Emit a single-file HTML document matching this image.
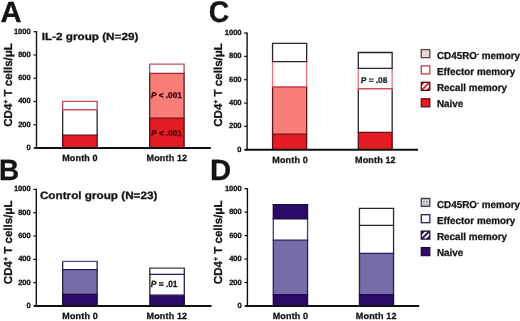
<!DOCTYPE html><html><head><meta charset="utf-8"><style>html,body{margin:0;padding:0;background:#fff;}svg{display:block;will-change:transform;}text{font-family:"Liberation Sans",sans-serif;text-rendering:geometricPrecision;}</style></head><body>
<svg width="520" height="321" viewBox="0 0 520 321">
<rect width="520" height="321" fill="#fff"/>
<text x="0.4" y="22" font-size="29.2" font-weight="bold" text-anchor="start" fill="#141414" stroke="#141414" stroke-width="0.3" >A</text>
<g transform="translate(-1.05,179.9) scale(0.95,1)"><text x="0" y="0" font-size="29.3" font-weight="bold" fill="#141414" stroke="#141414" stroke-width="0.3">B</text></g>
<g transform="translate(208.7,22) scale(0.945,1)"><text x="0" y="0" font-size="29.9" font-weight="bold" fill="#141414" stroke="#141414" stroke-width="0.3">C</text></g>
<text x="209.9" y="180" font-size="29.3" font-weight="bold" text-anchor="start" fill="#141414" stroke="#141414" stroke-width="0.3" >D</text>
<text x="41.8" y="40" font-size="10.3" font-weight="bold" text-anchor="start" fill="#141414" stroke="#141414" stroke-width="0.3" textLength="96.5" lengthAdjust="spacingAndGlyphs">IL-2 group (N=29)</text>
<text x="39.9" y="199" font-size="10.6" font-weight="bold" text-anchor="start" fill="#141414" stroke="#141414" stroke-width="0.3" textLength="117.5" lengthAdjust="spacingAndGlyphs">Control group (N=23)</text>
<text transform="translate(12.1,126.8) rotate(-90)" font-size="11.56" font-weight="bold" fill="#141414" stroke="#141414" stroke-width="0.3">CD4<tspan font-size="7" dy="-4.2">+</tspan><tspan dy="4.2"> T cells/μL</tspan></text>
<text transform="translate(12.3,284.2) rotate(-90)" font-size="11.56" font-weight="bold" fill="#141414" stroke="#141414" stroke-width="0.3">CD4<tspan font-size="7" dy="-4.2">+</tspan><tspan dy="4.2"> T cells/μL</tspan></text>
<text transform="translate(221.7,126.8) rotate(-90)" font-size="11.56" font-weight="bold" fill="#141414" stroke="#141414" stroke-width="0.3">CD4<tspan font-size="7" dy="-4.2">+</tspan><tspan dy="4.2"> T cells/μL</tspan></text>
<text transform="translate(221.8,284.2) rotate(-90)" font-size="11.56" font-weight="bold" fill="#141414" stroke="#141414" stroke-width="0.3">CD4<tspan font-size="7" dy="-4.2">+</tspan><tspan dy="4.2"> T cells/μL</tspan></text>
<rect x="62.65" y="135.10" width="34.50" height="12.90" fill="#e31b23"/>
<rect x="62.65" y="109.75" width="34.50" height="25.35" fill="#fff"/>
<rect x="62.65" y="101.30" width="34.50" height="8.45" fill="#fff"/>
<line x1="62.65" y1="135.10" x2="62.65" y2="148.00" stroke="#5a0a10" stroke-width="1.3"/>
<line x1="97.15" y1="135.10" x2="97.15" y2="148.00" stroke="#5a0a10" stroke-width="1.3"/>
<line x1="62.65" y1="109.75" x2="62.65" y2="135.10" stroke="#262626" stroke-width="1.3"/>
<line x1="97.15" y1="109.75" x2="97.15" y2="135.10" stroke="#262626" stroke-width="1.3"/>
<line x1="62.65" y1="101.30" x2="62.65" y2="109.75" stroke="#b04a56" stroke-width="1.3"/>
<line x1="97.15" y1="101.30" x2="97.15" y2="109.75" stroke="#b04a56" stroke-width="1.3"/>
<line x1="62.00" y1="135.10" x2="97.80" y2="135.10" stroke="#6a0c12" stroke-width="1.3"/>
<line x1="62.00" y1="109.75" x2="97.80" y2="109.75" stroke="#c4505c" stroke-width="1.3"/>
<line x1="62.00" y1="101.30" x2="97.80" y2="101.30" stroke="#c4505c" stroke-width="1.3"/>
<rect x="149.70" y="118.20" width="34.40" height="29.80" fill="#e31b23"/>
<rect x="149.70" y="73.40" width="34.40" height="44.80" fill="#f97d78"/>
<rect x="149.70" y="64.15" width="34.40" height="9.25" fill="#fff"/>
<line x1="149.70" y1="118.20" x2="149.70" y2="148.00" stroke="#5a0a10" stroke-width="1.3"/>
<line x1="184.10" y1="118.20" x2="184.10" y2="148.00" stroke="#5a0a10" stroke-width="1.3"/>
<line x1="149.70" y1="73.40" x2="149.70" y2="118.20" stroke="#5a1a1a" stroke-width="1.3"/>
<line x1="184.10" y1="73.40" x2="184.10" y2="118.20" stroke="#5a1a1a" stroke-width="1.3"/>
<line x1="149.70" y1="64.15" x2="149.70" y2="73.40" stroke="#b04a56" stroke-width="1.3"/>
<line x1="184.10" y1="64.15" x2="184.10" y2="73.40" stroke="#b04a56" stroke-width="1.3"/>
<line x1="149.05" y1="118.20" x2="184.75" y2="118.20" stroke="#6a0c12" stroke-width="1.3"/>
<line x1="149.05" y1="73.40" x2="184.75" y2="73.40" stroke="#a02830" stroke-width="1.3"/>
<line x1="149.05" y1="64.15" x2="184.75" y2="64.15" stroke="#c4505c" stroke-width="1.3"/>
<rect x="62.65" y="294.40" width="34.50" height="11.60" fill="#2d0b68"/>
<rect x="62.65" y="269.60" width="34.50" height="24.80" fill="#766ca8"/>
<rect x="62.65" y="261.30" width="34.50" height="8.30" fill="#fff"/>
<line x1="62.65" y1="294.40" x2="62.65" y2="306.00" stroke="#1c0845" stroke-width="1.3"/>
<line x1="97.15" y1="294.40" x2="97.15" y2="306.00" stroke="#1c0845" stroke-width="1.3"/>
<line x1="62.65" y1="269.60" x2="62.65" y2="294.40" stroke="#2a2040" stroke-width="1.3"/>
<line x1="97.15" y1="269.60" x2="97.15" y2="294.40" stroke="#2a2040" stroke-width="1.3"/>
<line x1="62.65" y1="261.30" x2="62.65" y2="269.60" stroke="#2a2040" stroke-width="1.3"/>
<line x1="97.15" y1="261.30" x2="97.15" y2="269.60" stroke="#2a2040" stroke-width="1.3"/>
<line x1="62.00" y1="294.40" x2="97.80" y2="294.40" stroke="#1c0845" stroke-width="1.3"/>
<line x1="62.00" y1="269.60" x2="97.80" y2="269.60" stroke="#2a1a60" stroke-width="1.3"/>
<line x1="62.00" y1="261.30" x2="97.80" y2="261.30" stroke="#5548a0" stroke-width="1.3"/>
<rect x="149.85" y="295.20" width="34.45" height="10.80" fill="#2d0b68"/>
<rect x="149.85" y="274.45" width="34.45" height="20.75" fill="#fff"/>
<rect x="149.85" y="268.10" width="34.45" height="6.35" fill="#fff"/>
<line x1="149.85" y1="295.20" x2="149.85" y2="306.00" stroke="#1c0845" stroke-width="1.3"/>
<line x1="184.30" y1="295.20" x2="184.30" y2="306.00" stroke="#1c0845" stroke-width="1.3"/>
<line x1="149.85" y1="274.45" x2="149.85" y2="295.20" stroke="#2a2040" stroke-width="1.3"/>
<line x1="184.30" y1="274.45" x2="184.30" y2="295.20" stroke="#2a2040" stroke-width="1.3"/>
<line x1="149.85" y1="268.10" x2="149.85" y2="274.45" stroke="#262626" stroke-width="1.3"/>
<line x1="184.30" y1="268.10" x2="184.30" y2="274.45" stroke="#262626" stroke-width="1.3"/>
<line x1="149.20" y1="295.20" x2="184.95" y2="295.20" stroke="#1c0845" stroke-width="1.3"/>
<line x1="149.20" y1="274.45" x2="184.95" y2="274.45" stroke="#2a1a60" stroke-width="1.3"/>
<line x1="149.20" y1="268.10" x2="184.95" y2="268.10" stroke="#3a3a3a" stroke-width="1.3"/>
<rect x="272.55" y="134.20" width="34.10" height="15.55" fill="#e31b23"/>
<rect x="272.55" y="87.00" width="34.10" height="47.20" fill="#f97d78"/>
<rect x="272.55" y="61.55" width="34.10" height="25.45" fill="#fff"/>
<rect x="272.55" y="43.45" width="34.10" height="18.10" fill="#fff"/>
<line x1="272.55" y1="134.20" x2="272.55" y2="149.75" stroke="#5a0a10" stroke-width="1.3"/>
<line x1="306.65" y1="134.20" x2="306.65" y2="149.75" stroke="#5a0a10" stroke-width="1.3"/>
<line x1="272.55" y1="87.00" x2="272.55" y2="134.20" stroke="#5a1a1a" stroke-width="1.3"/>
<line x1="306.65" y1="87.00" x2="306.65" y2="134.20" stroke="#5a1a1a" stroke-width="1.3"/>
<line x1="272.55" y1="61.55" x2="272.55" y2="87.00" stroke="#e07482" stroke-width="1.3"/>
<line x1="306.65" y1="61.55" x2="306.65" y2="87.00" stroke="#e07482" stroke-width="1.3"/>
<line x1="272.55" y1="43.45" x2="272.55" y2="61.55" stroke="#262626" stroke-width="1.3"/>
<line x1="306.65" y1="43.45" x2="306.65" y2="61.55" stroke="#262626" stroke-width="1.3"/>
<line x1="271.90" y1="134.20" x2="307.30" y2="134.20" stroke="#6a0c12" stroke-width="1.3"/>
<line x1="271.90" y1="87.00" x2="307.30" y2="87.00" stroke="#c83848" stroke-width="1.3"/>
<line x1="271.90" y1="61.55" x2="307.30" y2="61.55" stroke="#262626" stroke-width="1.3"/>
<line x1="271.90" y1="43.45" x2="307.30" y2="43.45" stroke="#262626" stroke-width="1.3"/>
<rect x="358.30" y="132.45" width="33.85" height="17.30" fill="#e31b23"/>
<rect x="358.30" y="88.75" width="33.85" height="43.70" fill="#fff"/>
<rect x="358.30" y="68.35" width="33.85" height="20.40" fill="#fff"/>
<rect x="358.30" y="52.50" width="33.85" height="15.85" fill="#fff"/>
<line x1="358.30" y1="132.45" x2="358.30" y2="149.75" stroke="#5a0a10" stroke-width="1.3"/>
<line x1="392.15" y1="132.45" x2="392.15" y2="149.75" stroke="#5a0a10" stroke-width="1.3"/>
<line x1="358.30" y1="88.75" x2="358.30" y2="132.45" stroke="#262626" stroke-width="1.3"/>
<line x1="392.15" y1="88.75" x2="392.15" y2="132.45" stroke="#262626" stroke-width="1.3"/>
<line x1="358.30" y1="68.35" x2="358.30" y2="88.75" stroke="#e07482" stroke-width="1.3"/>
<line x1="392.15" y1="68.35" x2="392.15" y2="88.75" stroke="#e07482" stroke-width="1.3"/>
<line x1="358.30" y1="52.50" x2="358.30" y2="68.35" stroke="#262626" stroke-width="1.3"/>
<line x1="392.15" y1="52.50" x2="392.15" y2="68.35" stroke="#262626" stroke-width="1.3"/>
<line x1="357.65" y1="132.45" x2="392.80" y2="132.45" stroke="#6a0c12" stroke-width="1.3"/>
<line x1="357.65" y1="88.75" x2="392.80" y2="88.75" stroke="#d84a5a" stroke-width="1.3"/>
<line x1="357.65" y1="68.35" x2="392.80" y2="68.35" stroke="#262626" stroke-width="1.3"/>
<line x1="357.65" y1="52.50" x2="392.80" y2="52.50" stroke="#262626" stroke-width="1.3"/>
<rect x="273.30" y="294.65" width="34.25" height="11.35" fill="#2d0b68"/>
<rect x="273.30" y="240.15" width="34.25" height="54.50" fill="#766ca8"/>
<rect x="273.30" y="218.90" width="34.25" height="21.25" fill="#fff"/>
<rect x="273.30" y="204.65" width="34.25" height="14.25" fill="#2d0b68"/>
<line x1="273.30" y1="294.65" x2="273.30" y2="306.00" stroke="#1c0845" stroke-width="1.3"/>
<line x1="307.55" y1="294.65" x2="307.55" y2="306.00" stroke="#1c0845" stroke-width="1.3"/>
<line x1="273.30" y1="240.15" x2="273.30" y2="294.65" stroke="#2a2040" stroke-width="1.3"/>
<line x1="307.55" y1="240.15" x2="307.55" y2="294.65" stroke="#2a2040" stroke-width="1.3"/>
<line x1="273.30" y1="218.90" x2="273.30" y2="240.15" stroke="#4a3a80" stroke-width="1.3"/>
<line x1="307.55" y1="218.90" x2="307.55" y2="240.15" stroke="#4a3a80" stroke-width="1.3"/>
<line x1="273.30" y1="204.65" x2="273.30" y2="218.90" stroke="#1c0845" stroke-width="1.3"/>
<line x1="307.55" y1="204.65" x2="307.55" y2="218.90" stroke="#1c0845" stroke-width="1.3"/>
<line x1="272.65" y1="294.65" x2="308.20" y2="294.65" stroke="#1c0845" stroke-width="1.3"/>
<line x1="272.65" y1="240.15" x2="308.20" y2="240.15" stroke="#2a1a60" stroke-width="1.3"/>
<line x1="272.65" y1="218.90" x2="308.20" y2="218.90" stroke="#1c0845" stroke-width="1.3"/>
<line x1="272.65" y1="204.65" x2="308.20" y2="204.65" stroke="#1c0845" stroke-width="1.3"/>
<rect x="359.45" y="294.65" width="34.10" height="11.35" fill="#2d0b68"/>
<rect x="359.45" y="253.30" width="34.10" height="41.35" fill="#766ca8"/>
<rect x="359.45" y="225.45" width="34.10" height="27.85" fill="#fff"/>
<rect x="359.45" y="208.45" width="34.10" height="17.00" fill="#fff"/>
<line x1="359.45" y1="294.65" x2="359.45" y2="306.00" stroke="#1c0845" stroke-width="1.3"/>
<line x1="393.55" y1="294.65" x2="393.55" y2="306.00" stroke="#1c0845" stroke-width="1.3"/>
<line x1="359.45" y1="253.30" x2="359.45" y2="294.65" stroke="#2a2040" stroke-width="1.3"/>
<line x1="393.55" y1="253.30" x2="393.55" y2="294.65" stroke="#2a2040" stroke-width="1.3"/>
<line x1="359.45" y1="225.45" x2="359.45" y2="253.30" stroke="#2a1a60" stroke-width="1.3"/>
<line x1="393.55" y1="225.45" x2="393.55" y2="253.30" stroke="#2a1a60" stroke-width="1.3"/>
<line x1="359.45" y1="208.45" x2="359.45" y2="225.45" stroke="#262626" stroke-width="1.3"/>
<line x1="393.55" y1="208.45" x2="393.55" y2="225.45" stroke="#262626" stroke-width="1.3"/>
<line x1="358.80" y1="294.65" x2="394.20" y2="294.65" stroke="#1c0845" stroke-width="1.3"/>
<line x1="358.80" y1="253.30" x2="394.20" y2="253.30" stroke="#2a1a60" stroke-width="1.3"/>
<line x1="358.80" y1="225.45" x2="394.20" y2="225.45" stroke="#262626" stroke-width="1.3"/>
<line x1="358.80" y1="208.45" x2="394.20" y2="208.45" stroke="#262626" stroke-width="1.3"/>
<line x1="36.5" y1="31.099999999999998" x2="36.5" y2="148.7" stroke="#111" stroke-width="1.4"/>
<line x1="34.3" y1="148.0" x2="210.8" y2="148.0" stroke="#111" stroke-width="1.9"/>
<line x1="33.5" y1="148.00" x2="36.5" y2="148.00" stroke="#111" stroke-width="1.2"/>
<text x="30.8" y="150.00" font-size="7.6" font-weight="bold" text-anchor="end" fill="#141414" stroke="#141414" stroke-width="0.3" >0</text>
<line x1="33.5" y1="124.74" x2="36.5" y2="124.74" stroke="#111" stroke-width="1.2"/>
<text x="30.8" y="126.74" font-size="7.6" font-weight="bold" text-anchor="end" fill="#141414" stroke="#141414" stroke-width="0.3" >200</text>
<line x1="33.5" y1="101.48" x2="36.5" y2="101.48" stroke="#111" stroke-width="1.2"/>
<text x="30.8" y="103.48" font-size="7.6" font-weight="bold" text-anchor="end" fill="#141414" stroke="#141414" stroke-width="0.3" >400</text>
<line x1="33.5" y1="78.22" x2="36.5" y2="78.22" stroke="#111" stroke-width="1.2"/>
<text x="30.8" y="80.22" font-size="7.6" font-weight="bold" text-anchor="end" fill="#141414" stroke="#141414" stroke-width="0.3" >600</text>
<line x1="33.5" y1="54.96" x2="36.5" y2="54.96" stroke="#111" stroke-width="1.2"/>
<text x="30.8" y="56.96" font-size="7.6" font-weight="bold" text-anchor="end" fill="#141414" stroke="#141414" stroke-width="0.3" >800</text>
<line x1="33.5" y1="31.70" x2="36.5" y2="31.70" stroke="#111" stroke-width="1.2"/>
<text x="30.8" y="33.70" font-size="7.6" font-weight="bold" text-anchor="end" fill="#141414" stroke="#141414" stroke-width="0.3" >1000</text>
<line x1="36.3" y1="188.8" x2="36.3" y2="306.7" stroke="#111" stroke-width="1.4"/>
<line x1="34.099999999999994" y1="306.0" x2="211.6" y2="306.0" stroke="#111" stroke-width="1.9"/>
<line x1="33.3" y1="306.00" x2="36.3" y2="306.00" stroke="#111" stroke-width="1.2"/>
<text x="30.8" y="308.00" font-size="7.6" font-weight="bold" text-anchor="end" fill="#141414" stroke="#141414" stroke-width="0.3" >0</text>
<line x1="33.3" y1="282.68" x2="36.3" y2="282.68" stroke="#111" stroke-width="1.2"/>
<text x="30.8" y="284.68" font-size="7.6" font-weight="bold" text-anchor="end" fill="#141414" stroke="#141414" stroke-width="0.3" >200</text>
<line x1="33.3" y1="259.36" x2="36.3" y2="259.36" stroke="#111" stroke-width="1.2"/>
<text x="30.8" y="261.36" font-size="7.6" font-weight="bold" text-anchor="end" fill="#141414" stroke="#141414" stroke-width="0.3" >400</text>
<line x1="33.3" y1="236.04" x2="36.3" y2="236.04" stroke="#111" stroke-width="1.2"/>
<text x="30.8" y="238.04" font-size="7.6" font-weight="bold" text-anchor="end" fill="#141414" stroke="#141414" stroke-width="0.3" >600</text>
<line x1="33.3" y1="212.72" x2="36.3" y2="212.72" stroke="#111" stroke-width="1.2"/>
<text x="30.8" y="214.72" font-size="7.6" font-weight="bold" text-anchor="end" fill="#141414" stroke="#141414" stroke-width="0.3" >800</text>
<line x1="33.3" y1="189.40" x2="36.3" y2="189.40" stroke="#111" stroke-width="1.2"/>
<text x="30.8" y="191.40" font-size="7.6" font-weight="bold" text-anchor="end" fill="#141414" stroke="#141414" stroke-width="0.3" >1000</text>
<line x1="247.1" y1="32.4" x2="247.1" y2="150.45" stroke="#111" stroke-width="1.4"/>
<line x1="244.9" y1="149.75" x2="418.0" y2="149.75" stroke="#111" stroke-width="1.9"/>
<line x1="244.1" y1="149.75" x2="247.1" y2="149.75" stroke="#111" stroke-width="1.2"/>
<text x="241.6" y="151.75" font-size="7.6" font-weight="bold" text-anchor="end" fill="#141414" stroke="#141414" stroke-width="0.3" >0</text>
<line x1="244.1" y1="126.40" x2="247.1" y2="126.40" stroke="#111" stroke-width="1.2"/>
<text x="241.6" y="128.40" font-size="7.6" font-weight="bold" text-anchor="end" fill="#141414" stroke="#141414" stroke-width="0.3" >200</text>
<line x1="244.1" y1="103.05" x2="247.1" y2="103.05" stroke="#111" stroke-width="1.2"/>
<text x="241.6" y="105.05" font-size="7.6" font-weight="bold" text-anchor="end" fill="#141414" stroke="#141414" stroke-width="0.3" >400</text>
<line x1="244.1" y1="79.70" x2="247.1" y2="79.70" stroke="#111" stroke-width="1.2"/>
<text x="241.6" y="81.70" font-size="7.6" font-weight="bold" text-anchor="end" fill="#141414" stroke="#141414" stroke-width="0.3" >600</text>
<line x1="244.1" y1="56.35" x2="247.1" y2="56.35" stroke="#111" stroke-width="1.2"/>
<text x="241.6" y="58.35" font-size="7.6" font-weight="bold" text-anchor="end" fill="#141414" stroke="#141414" stroke-width="0.3" >800</text>
<line x1="244.1" y1="33.00" x2="247.1" y2="33.00" stroke="#111" stroke-width="1.2"/>
<text x="241.6" y="35.00" font-size="7.6" font-weight="bold" text-anchor="end" fill="#141414" stroke="#141414" stroke-width="0.3" >1000</text>
<line x1="247.4" y1="188.0" x2="247.4" y2="306.7" stroke="#111" stroke-width="1.4"/>
<line x1="245.20000000000002" y1="306.0" x2="419.2" y2="306.0" stroke="#111" stroke-width="1.9"/>
<line x1="244.4" y1="306.00" x2="247.4" y2="306.00" stroke="#111" stroke-width="1.2"/>
<text x="241.8" y="308.00" font-size="7.6" font-weight="bold" text-anchor="end" fill="#141414" stroke="#141414" stroke-width="0.3" >0</text>
<line x1="244.4" y1="282.52" x2="247.4" y2="282.52" stroke="#111" stroke-width="1.2"/>
<text x="241.8" y="284.52" font-size="7.6" font-weight="bold" text-anchor="end" fill="#141414" stroke="#141414" stroke-width="0.3" >200</text>
<line x1="244.4" y1="259.04" x2="247.4" y2="259.04" stroke="#111" stroke-width="1.2"/>
<text x="241.8" y="261.04" font-size="7.6" font-weight="bold" text-anchor="end" fill="#141414" stroke="#141414" stroke-width="0.3" >400</text>
<line x1="244.4" y1="235.56" x2="247.4" y2="235.56" stroke="#111" stroke-width="1.2"/>
<text x="241.8" y="237.56" font-size="7.6" font-weight="bold" text-anchor="end" fill="#141414" stroke="#141414" stroke-width="0.3" >600</text>
<line x1="244.4" y1="212.08" x2="247.4" y2="212.08" stroke="#111" stroke-width="1.2"/>
<text x="241.8" y="214.08" font-size="7.6" font-weight="bold" text-anchor="end" fill="#141414" stroke="#141414" stroke-width="0.3" >800</text>
<line x1="244.4" y1="188.60" x2="247.4" y2="188.60" stroke="#111" stroke-width="1.2"/>
<text x="241.8" y="190.60" font-size="7.6" font-weight="bold" text-anchor="end" fill="#141414" stroke="#141414" stroke-width="0.3" >1000</text>
<text x="80.0" y="161" font-size="9" font-weight="bold" text-anchor="middle" fill="#141414" stroke="#141414" stroke-width="0.3" letter-spacing="0.15">Month 0</text>
<text x="166.9" y="161" font-size="9" font-weight="bold" text-anchor="middle" fill="#141414" stroke="#141414" stroke-width="0.3" letter-spacing="0.15">Month 12</text>
<text x="80.1" y="319" font-size="9" font-weight="bold" text-anchor="middle" fill="#141414" stroke="#141414" stroke-width="0.3" letter-spacing="0.15">Month 0</text>
<text x="166.9" y="319" font-size="9" font-weight="bold" text-anchor="middle" fill="#141414" stroke="#141414" stroke-width="0.3" letter-spacing="0.15">Month 12</text>
<text x="290.1" y="163" font-size="9" font-weight="bold" text-anchor="middle" fill="#141414" stroke="#141414" stroke-width="0.3" letter-spacing="0.15">Month 0</text>
<text x="375.4" y="163" font-size="9" font-weight="bold" text-anchor="middle" fill="#141414" stroke="#141414" stroke-width="0.3" letter-spacing="0.15">Month 12</text>
<text x="290.5" y="319" font-size="9" font-weight="bold" text-anchor="middle" fill="#141414" stroke="#141414" stroke-width="0.3" letter-spacing="0.15">Month 0</text>
<text x="376.2" y="319" font-size="9" font-weight="bold" text-anchor="middle" fill="#141414" stroke="#141414" stroke-width="0.3" letter-spacing="0.15">Month 12</text>
<text x="151.0" y="97.7" font-size="8.4" font-weight="bold" fill="#38060a" stroke="#38060a" stroke-width="0.32" textLength="30.8" lengthAdjust="spacingAndGlyphs"><tspan font-style="italic">P</tspan> &lt; .001</text>
<text x="151.3" y="136.0" font-size="8.4" font-weight="bold" fill="#48060a" stroke="#48060a" stroke-width="0.32" textLength="30.5" lengthAdjust="spacingAndGlyphs"><tspan font-style="italic">P</tspan> &lt; .001</text>
<text x="360.8" y="83.0" font-size="8.4" font-weight="bold" fill="#2a2a2a" stroke="#2a2a2a" stroke-width="0.32" textLength="26.5" lengthAdjust="spacingAndGlyphs"><tspan font-style="italic">P</tspan> = .08</text>
<text x="150.8" y="286.5" font-size="9" font-weight="bold" fill="#1a1a1a" stroke="#1a1a1a" stroke-width="0.32" textLength="26.7" lengthAdjust="spacingAndGlyphs"><tspan font-style="italic">P</tspan> = .01</text>
<defs>
<pattern id="dotR" x="0.5" y="0.5" width="3" height="3" patternUnits="userSpaceOnUse"><rect width="3" height="3" fill="#fcf6f6"/><rect width="3" height="1" fill="#dcc0c0"/><rect width="1" height="3" fill="#dcc0c0"/></pattern>
<pattern id="dotP" x="0.5" y="0.5" width="3" height="3" patternUnits="userSpaceOnUse"><rect width="3" height="3" fill="#f4f4f6"/><rect width="3" height="1" fill="#9c9ca4"/><rect width="1" height="3" fill="#9c9ca4"/></pattern>
<pattern id="hatchR" width="4" height="4" patternUnits="userSpaceOnUse" patternTransform="rotate(45)"><rect width="4" height="4" fill="#fff"/><rect width="2" height="4" fill="#d0283a"/></pattern>
<pattern id="hatchP" width="4" height="4" patternUnits="userSpaceOnUse" patternTransform="rotate(45)"><rect width="4" height="4" fill="#fff"/><rect width="2" height="4" fill="#2b0c62"/></pattern>
</defs>
<rect x="421.3" y="49.6" width="8.5" height="8.0" fill="url(#dotR)" stroke="#5a4040" stroke-width="1.3"/>
<g transform="translate(437.0,59) scale(0.975,1)">
<text x="0" y="0" font-size="10.1" font-weight="bold" text-anchor="start" fill="#141414" stroke="#141414" stroke-width="0.28" >CD45RO<tspan font-size="6.5" dy="-3.5">-</tspan><tspan dy="3.5"> memory</tspan></text>
</g>
<rect x="421.3" y="65.9" width="8.5" height="8.0" fill="#fff" stroke="#d03848" stroke-width="1.3"/>
<g transform="translate(437.0,75) scale(0.975,1)">
<text x="0" y="0" font-size="10.1" font-weight="bold" text-anchor="start" fill="#141414" stroke="#141414" stroke-width="0.28" >Effector memory</text>
</g>
<clipPath id="clip823"><rect x="421.3" y="82.30000000000001" width="8.5" height="8.0"/></clipPath>
<g clip-path="url(#clip823)"><rect x="421.3" y="82.30000000000001" width="8.5" height="8.0" fill="#fff"/>
<line x1="412.75" y1="93.50" x2="432.75" y2="73.50" stroke="#d42a3a" stroke-width="2.0"/>
<line x1="415.55" y1="96.30" x2="435.55" y2="76.30" stroke="#d42a3a" stroke-width="2.0"/>
<line x1="418.35" y1="99.10" x2="438.35" y2="79.10" stroke="#d42a3a" stroke-width="2.0"/>
</g>
<rect x="421.3" y="82.30000000000001" width="8.5" height="8.0" fill="none" stroke="#4a0e16" stroke-width="1.3"/>
<g transform="translate(437.0,91) scale(0.975,1)">
<text x="0" y="0" font-size="10.1" font-weight="bold" text-anchor="start" fill="#141414" stroke="#141414" stroke-width="0.28" >Recall memory</text>
</g>
<rect x="421.3" y="98.80000000000001" width="8.5" height="8.0" fill="#e31b23" stroke="#6a0a10" stroke-width="1.3"/>
<g transform="translate(437.0,107) scale(0.975,1)">
<text x="0" y="0" font-size="10.1" font-weight="bold" text-anchor="start" fill="#141414" stroke="#141414" stroke-width="0.28" >Naive</text>
</g>
<rect x="421.3" y="198.4" width="8.5" height="8.0" fill="url(#dotP)" stroke="#404048" stroke-width="1.3"/>
<g transform="translate(437.0,208) scale(0.975,1)">
<text x="0" y="0" font-size="10.1" font-weight="bold" text-anchor="start" fill="#141414" stroke="#141414" stroke-width="0.28" >CD45RO<tspan font-size="6.5" dy="-3.5">-</tspan><tspan dy="3.5"> memory</tspan></text>
</g>
<rect x="421.3" y="214.70000000000002" width="8.5" height="8.0" fill="#fff" stroke="#2a1e5a" stroke-width="1.3"/>
<g transform="translate(437.0,224) scale(0.975,1)">
<text x="0" y="0" font-size="10.1" font-weight="bold" text-anchor="start" fill="#141414" stroke="#141414" stroke-width="0.28" >Effector memory</text>
</g>
<clipPath id="clip2311"><rect x="421.3" y="231.10000000000002" width="8.5" height="8.0"/></clipPath>
<g clip-path="url(#clip2311)"><rect x="421.3" y="231.10000000000002" width="8.5" height="8.0" fill="#fff"/>
<line x1="412.75" y1="242.30" x2="432.75" y2="222.30" stroke="#2b1a50" stroke-width="2.0"/>
<line x1="415.55" y1="245.10" x2="435.55" y2="225.10" stroke="#2b1a50" stroke-width="2.0"/>
<line x1="418.35" y1="247.90" x2="438.35" y2="227.90" stroke="#2b1a50" stroke-width="2.0"/>
</g>
<rect x="421.3" y="231.10000000000002" width="8.5" height="8.0" fill="none" stroke="#1c1030" stroke-width="1.3"/>
<g transform="translate(437.0,240) scale(0.975,1)">
<text x="0" y="0" font-size="10.1" font-weight="bold" text-anchor="start" fill="#141414" stroke="#141414" stroke-width="0.28" >Recall memory</text>
</g>
<rect x="421.3" y="247.60000000000002" width="8.5" height="8.0" fill="#2d0b68" stroke="#1c0845" stroke-width="1.3"/>
<g transform="translate(437.0,256) scale(0.975,1)">
<text x="0" y="0" font-size="10.1" font-weight="bold" text-anchor="start" fill="#141414" stroke="#141414" stroke-width="0.28" >Naive</text>
</g>
</svg></body></html>
